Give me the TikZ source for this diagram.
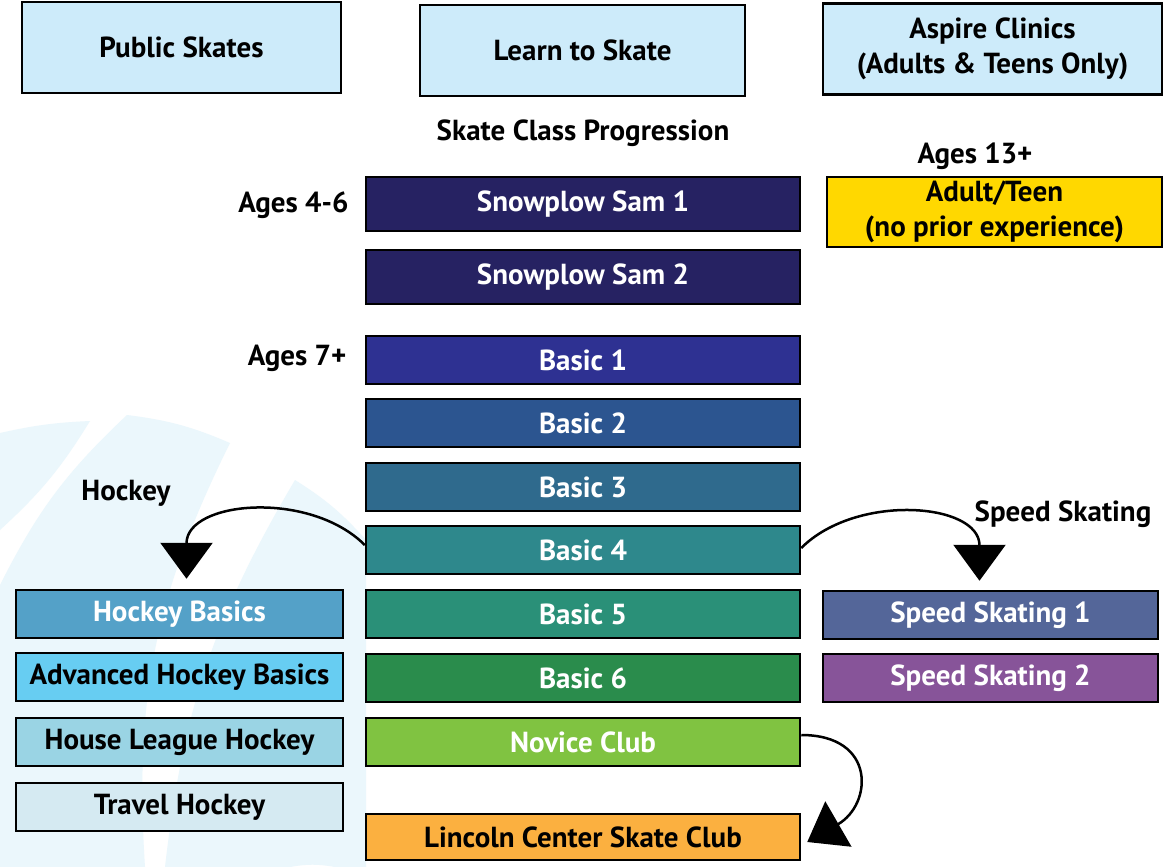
\documentclass[tikz,border=0pt]{standalone}
\usepackage{fontspec}
\setmainfont{PT Sans}
\usepackage{tikz}
\usetikzlibrary{arrows.meta}

\definecolor{topfill}{HTML}{CDEBFA}
\definecolor{snowfill}{HTML}{262262}
\definecolor{basicA}{HTML}{2E3192}
\definecolor{basicB}{HTML}{2C5590}
\definecolor{basicC}{HTML}{2F6A8D}
\definecolor{basicD}{HTML}{2E888C}
\definecolor{basicE}{HTML}{2A9078}
\definecolor{basicF}{HTML}{2A8C4C}
\definecolor{novfill}{HTML}{80C341}
\definecolor{clubfill}{HTML}{FBB040}
\definecolor{adultfill}{HTML}{FFD800}
\definecolor{hockA}{HTML}{54A1C8}
\definecolor{hockB}{HTML}{67CDF2}
\definecolor{hockC}{HTML}{9AD4E4}
\definecolor{hockD}{HTML}{D5EAF2}
\definecolor{speedA}{HTML}{546699}
\definecolor{speedB}{HTML}{875499}
\definecolor{wmark}{HTML}{EBF7FC}

\begin{document}
\begin{tikzpicture}[x=1pt,y=-1pt,
    every node/.style={font=\fontsize{29}{35}\selectfont\bfseries},
    box/.style={draw=black,line width=2.5pt,inner sep=0pt,align=center},
    headbox/.style={box,fill=topfill,minimum height=91pt},
    classbox/.style={box,text=white,minimum width=434pt,minimum height=48pt},
    sidebox/.style={box,minimum height=48pt},
    bigarrow/.style={line width=2.5pt,-{Triangle[width=52pt,length=36pt]}}]
   % page and watermark
   \fill[white] (0,0) rectangle (1176,867);
   \useasboundingbox (0,0) rectangle (1176,867);
   \fill[wmark] (0,433) to[bend left=5] (90,421) to[bend left=8] (0,530) -- cycle;
   \fill[wmark] (0,585) to[bend left=10] (127,415) to[bend left=8] (230,443)
      to[bend right=15] (145,867) -- (0,867) -- cycle;
   \fill[wmark] (165,867) to[bend left=12] (295,480) to[bend left=8] (366,540)
      -- (366,867) -- (335,867) to[bend right=10] (290,867) -- cycle;

   % headers
   \node[headbox,minimum width=319pt] (pub) at (181.5,47.5) {Public Skates};
   \node[headbox,minimum width=325pt] (lts) at (582.5,50.5) {Learn to Skate};
   \node[headbox,minimum width=339pt] (asp) at (992.5,49) {Aspire Clinics\\(Adults \& Teens Only)};
   \node (prog) at (583,133) {Skate Class Progression};

   % class column
   \node[classbox,fill=snowfill,minimum height=54pt] (sam1) at (583,204) {Snowplow Sam 1};
   \node[classbox,fill=snowfill,minimum height=54pt] (sam2) at (583,277) {Snowplow Sam 2};
   \node[classbox,fill=basicA] (b1) at (583,360) {Basic 1};
   \node[classbox,fill=basicB] (b2) at (583,423) {Basic 2};
   \node[classbox,fill=basicC] (b3) at (583,487) {Basic 3};
   \node[classbox,fill=basicD] (b4) at (583,550) {Basic 4};
   \node[classbox,fill=basicE] (b5) at (583,614) {Basic 5};
   \node[classbox,fill=basicF] (b6) at (583,678) {Basic 6};
   \node[classbox,fill=novfill] (nov) at (583,742) {Novice Club};
   \node[classbox,fill=clubfill,text=black,minimum height=46pt] (club) at (583,837) {Lincoln Center Skate Club};
   \node[anchor=east] (age46) at (352,205) {Ages 4-6};
   \node[anchor=east] (age7) at (350,358) {Ages 7+};

   % aspire
   \node (age13) at (975,156) {Ages 13+};
   \node[box,fill=adultfill,minimum width=335pt,minimum height=70pt] (adult) at (994.5,212) {Adult/Teen\\(no prior experience)};

   % hockey
   \node (hock) at (126,493) {Hockey};
   \node[sidebox,fill=hockA,text=white,minimum width=327pt] (hb) at (179.5,614) {Hockey Basics};
   \node[sidebox,fill=hockB,minimum width=327pt] (ahb) at (179.5,677) {Advanced Hockey Basics};
   \node[sidebox,fill=hockC,minimum width=327pt] (hlh) at (179.5,742) {House League Hockey};
   \node[sidebox,fill=hockD,minimum width=327pt] (th) at (179.5,807) {Travel Hockey};

   % speed skating
   \node (speed) at (1063,514) {Speed Skating};
   \node[sidebox,fill=speedA,text=white,minimum width=335pt] (sp1) at (990.5,615) {Speed Skating 1};
   \node[sidebox,fill=speedB,text=white,minimum width=335pt] (sp2) at (990.5,678) {Speed Skating 2};

   % arrows
   \draw[bigarrow] ([yshift=5pt]b4.west) to[out=135,in=90,looseness=1.1] ([xshift=7pt,yshift=10pt]hb.north);
   \draw[bigarrow] ([yshift=2pt]b4.east) to[out=45,in=90,looseness=1.1] ([xshift=-11pt,yshift=9pt]sp1.north);
   \draw[bigarrow] ([yshift=7pt]nov.east) to[out=0,in=30,looseness=1.8] ([xshift=6pt,yshift=-5pt]club.east);
\end{tikzpicture}
\end{document}
